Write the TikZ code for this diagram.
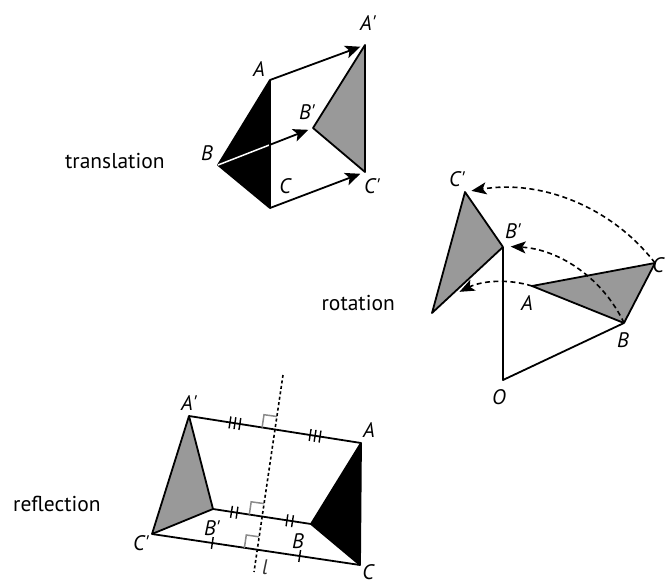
\documentclass[tikz,border=0pt]{standalone}
\usepackage{fontspec}
\setmainfont{PT Sans}
\usetikzlibrary{arrows.meta,calc}
\definecolor{shade}{RGB}{153,153,153}
\tikzset{
  edge/.style={line width=1.8pt, line join=round},
  grayfill/.style={edge, fill=shade, draw=black},
  blackfill/.style={edge, fill=black, draw=black},
  mv/.style={edge, -{Stealth[length=15pt,width=13pt,inset=3.5pt]}, shorten >=5pt},
  rot/.style={line width=1.6pt, dash pattern=on 5pt off 3.5pt, -{Stealth[length=15pt,width=12pt,inset=3.5pt]}},
  mirror/.style={line width=1.6pt, dash pattern=on 3pt off 2.5pt},
  tickline/.style={line width=1.4pt},
  rightang/.style={line width=1.5pt, draw=shade!90!black},
  lbl/.style={font=\fontsize{21}{21}\selectfont\itshape, inner sep=0pt},
  caption/.style={font=\fontsize{21.5}{24}\selectfont, inner sep=0pt}
}
\newcommand\tickmark[2]{\draw[tickline] ($(#1)!6pt!90:(#2)$) -- ($(#1)!6pt!-90:(#2)$);}
\begin{document}
\begin{tikzpicture}[x=1pt,y=-1pt]
\useasboundingbox (0,0) rectangle (665,584);
\clip (0,0) rectangle (665,584);

% ---------- translation ----------
\coordinate (tA) at (270,80);
\coordinate (tB) at (218,165);
\coordinate (tC) at (270,208);
\coordinate (tAp) at (365,45);
\coordinate (tBp) at (313,128);
\coordinate (tCp) at (365,172);
\fill[blackfill] (tA) -- (tB) -- (tC) -- cycle;
\fill[grayfill] (tAp) -- (tBp) -- (tCp) -- cycle;
\draw[mv] (tA) -- (tAp);
\draw[mv] (tB) -- (tBp);
\draw[mv] (tC) -- (tCp);
\draw[line width=1.5pt, white] (tB) -- ($(tB)!0.54!(tBp)$);
\draw[edge] (tA) -- (tC);
\node[lbl] (ltA) at (259,69) {A};
\node[lbl] (ltB) at (207,153) {B};
\node[lbl] (ltC) at (285,186) {C};
\node[lbl] (ltAp) at (368,23) {A\textquotesingle};
\node[lbl] (ltBp) at (307,112) {B\textquotesingle};
\node[lbl] (ltCp) at (372,186) {C\textquotesingle};
\node[caption, anchor=base west] (captrans) at (65,168) {translation};

% ---------- rotation ----------
\coordinate (O) at (503,380);
\coordinate (rA) at (532,286);
\coordinate (rB) at (624,323);
\coordinate (rC) at (655,263);
\coordinate (rAp) at (432,313);
\coordinate (rBp) at (503,247);
\coordinate (rCp) at (465,192);
\draw[edge] (rBp) -- (O) -- (rB);
\fill[grayfill] (rCp) -- (rBp) -- (rAp) -- cycle;
\fill[grayfill] (rA) -- (rB) -- (rC) -- cycle;
\draw[rot] (rC) arc[start angle=-37.6, end angle=-99.5, radius=191.8];
\draw[rot] (rB) arc[start angle=-25.2, end angle=-86.8, radius=133.5];
\draw[rot] (rA) arc[start angle=-72.9, end angle=-116.3, radius=98.4];
\node[lbl] (lrA) at (527,303) {A};
\node[lbl] (lrB) at (623,340) {B};
\node[lbl] (lrC) at (658,265) {C};
\node[lbl] (lrO) at (499,397) {O};
\node[lbl] (lrBp) at (513,231) {B\textquotesingle};
\node[lbl] (lrCp) at (457,179) {C\textquotesingle};
\node[caption, anchor=base east] (caprot) at (395,310) {rotation};

% ---------- reflection ----------
\coordinate (fAp) at (189,416);
\coordinate (fBp) at (213,509);
\coordinate (fCp) at (152,534);
\coordinate (fA) at (361,443);
\coordinate (fB) at (311,524);
\coordinate (fC) at (360,565);
\coordinate (ltop) at (283,375);
\coordinate (lbot) at (254,572);
\draw[mirror] (ltop) -- (lbot);
\draw[edge] (fAp) -- (fA);
\draw[edge] (fBp) -- (fB);
\draw[edge] (fCp) -- (fC);
\fill[grayfill] (fAp) -- (fBp) -- (fCp) -- cycle;
\fill[blackfill] (fA) -- (fB) -- (fC) -- cycle;
% right-angle marks
\draw[rightang] (262.1,427.5) -- (264.0,414.7) -- (276.9,416.5);
\draw[rightang] (249.3,514.6) -- (251.2,501.8) -- (264.1,503.6);
\draw[rightang] (244.4,547.8) -- (246.3,535.0) -- (259.2,536.8);
% triple ticks on A'A
\foreach \f in {0.267,0.733}{
  \coordinate (m) at ($(fAp)!\f!(fA)$);
  \coordinate (ma) at ($(m)!5pt!(fA)$);
  \coordinate (mb) at ($(m)!-5pt!(fA)$);
  \tickmark{m}{fA}\tickmark{ma}{fA}\tickmark{mb}{fA}
}
% double ticks on B'B
\foreach \f in {0.217,0.783}{
  \coordinate (m) at ($(fBp)!\f!(fB)$);
  \coordinate (ma) at ($(m)!2.8pt!(fB)$);
  \coordinate (mb) at ($(m)!-2.8pt!(fB)$);
  \tickmark{ma}{fB}\tickmark{mb}{fB}
}
% single ticks on C'C
\foreach \f in {0.29,0.71}{
  \coordinate (m) at ($(fCp)!\f!(fC)$);
  \tickmark{m}{fC}
}
\node[lbl] (lfAp) at (189,403) {A\textquotesingle};
\node[lbl] (lfBp) at (212,528) {B\textquotesingle};
\node[lbl] (lfCp) at (141,543) {C\textquotesingle};
\node[lbl] (lfA) at (369,430) {A};
\node[lbl] (lfB) at (298,541) {B};
\node[lbl] (lfC) at (368,572) {C};
\node[lbl, text=black!80] (lfl) at (265,567) {l};
\node[caption, anchor=base west] (capref) at (13,511) {reflection};
\end{tikzpicture}
\end{document}
